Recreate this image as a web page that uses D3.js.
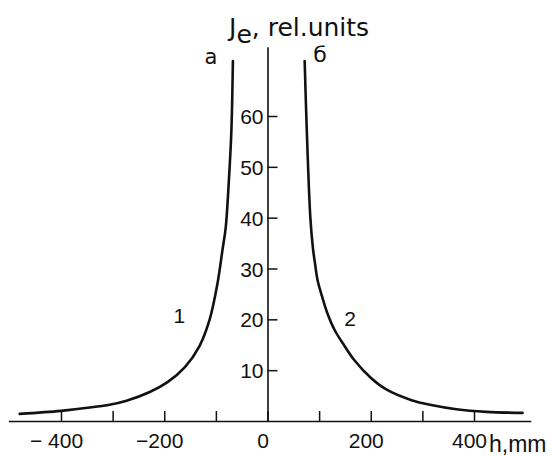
<!DOCTYPE html>
<html>
<head>
<meta charset="utf-8">
<script src="https://cdn.jsdelivr.net/npm/d3@7"></script>
<style>
  html, body { margin: 0; padding: 0; background: #fff; }
  svg { display: block; }
  text { fill: #111; }
</style>
</head>
<body>
<svg id="chart" width="551" height="456"></svg>
<script>
// ---- data ----
const curve1H = [-480, -400, -340, -306, -273, -228, -193, -160, -132, -112, -97, -87, -81, -75, -70, -67];
const curve1V = [1.4, 2.0, 2.7, 3.2, 4.0, 5.7, 7.7, 10.6, 14.7, 20, 27, 33.8, 38, 47, 57, 70.8];
const curve2H = [72, 76, 83, 88, 92, 97, 106, 116, 130, 149, 168, 201, 230, 279, 320, 366, 424, 494];
const curve2V = [70.8, 57.5, 40, 34, 31, 27.7, 24.4, 21.2, 17.9, 14.8, 12.0, 8.4, 6.2, 4.1, 3.1, 2.3, 1.8, 1.6];
const xTicks = [-400, -300, -200, -100, 0, 100, 200, 300, 400];
const xTickLabels = {"-400": "− 400", "-200": "−200", "0": "0", "200": "200", "400": "400"};
const yTicks = [10, 20, 30, 40, 50, 60];
const curveNames = ["1", "2"];
const branchNames = ["а", "б"];

const svg = d3.select("#chart");
const numFont = "'Liberation Sans', Arial, sans-serif";

const x = d3.scaleLinear().domain([-400, 400]).range([61, 474]);
const y = d3.scaleLinear().domain([0, 60]).range([421, 116]);

// axis scales extended to the drawn axis line lengths
const xa = x.copy().domain([-502, 510]).range([x(-502), x(510)]);
const ya = y.copy().domain([0, 73.6]).range([y(0), y(73.6)]);

// X axis
const gx = svg.append("g").attr("transform", `translate(0,${y(0)})`)
  .call(d3.axisBottom(xa).tickValues(xTicks).tickSizeInner(-10).tickSizeOuter(0)
    .tickFormat(d => xTickLabels[String(d)] || ""));
gx.select(".domain").attr("stroke", "#111").attr("stroke-width", 1.6);
gx.selectAll(".tick line").attr("stroke", "#111").attr("stroke-width", 1.5);
gx.selectAll(".tick text").attr("y", 27).attr("dy", 0).attr("dx", -5)
  .attr("font-family", numFont).attr("font-size", 21).attr("fill", "#111");

// Y axis
const gy = svg.append("g").attr("transform", `translate(${x(0)},0)`)
  .call(d3.axisLeft(ya).tickValues(yTicks).tickSizeInner(-10).tickSizeOuter(0).tickPadding(4));
gy.select(".domain").attr("stroke", "#111").attr("stroke-width", 1.6);
gy.selectAll(".tick line").attr("stroke", "#111").attr("stroke-width", 1.5);
gy.selectAll(".tick text").attr("font-family", numFont).attr("font-size", 21)
  .attr("dy", "0.36em").attr("fill", "#111");

// curves
const line = d3.line().x(d => x(d[0])).y(d => y(d[1])).curve(d3.curveCatmullRom.alpha(0.5));
const c1 = curve1H.map((h, i) => [h, curve1V[i]]);
const c2 = curve2H.map((h, i) => [h, curve2V[i]]);
[c1, c2].forEach(c => {
  svg.append("path").datum(c).attr("d", line)
    .attr("fill", "none").attr("stroke", "#111").attr("stroke-width", 2.6)
    .attr("stroke-linecap", "round");
});

// curve labels
svg.append("text").attr("x", x(-171)).attr("y", y(19.3)).attr("text-anchor", "middle")
  .attr("font-family", numFont).attr("font-size", 21).text(curveNames[0]);
svg.append("text").attr("x", x(160)).attr("y", y(18.7)).attr("text-anchor", "middle")
  .attr("font-family", numFont).attr("font-size", 21).text(curveNames[1]);

// branch labels
svg.append("text").attr("x", 211).attr("y", 64).attr("text-anchor", "middle")
  .attr("font-family", "'DejaVu Sans', sans-serif").attr("font-size", 21).text(branchNames[0]);
svg.append("text").attr("x", 320).attr("y", 62).attr("text-anchor", "middle")
  .attr("font-family", "'DejaVu Sans', sans-serif").attr("font-size", 22).text(branchNames[1]);

// title
const t = svg.append("text").attr("x", 229).attr("y", 36)
  .attr("font-family", "'DejaVu Sans', sans-serif").attr("font-size", 25);
t.append("tspan").text("J");
t.append("tspan").attr("dy", 7).text("e");
t.append("tspan").attr("dy", -7).text(", rel.units");

// x axis unit label
svg.append("text").attr("x", 489).attr("y", 452)
  .attr("font-family", numFont).attr("font-size", 23).text("h,mm");
</script>
</body>
</html>
